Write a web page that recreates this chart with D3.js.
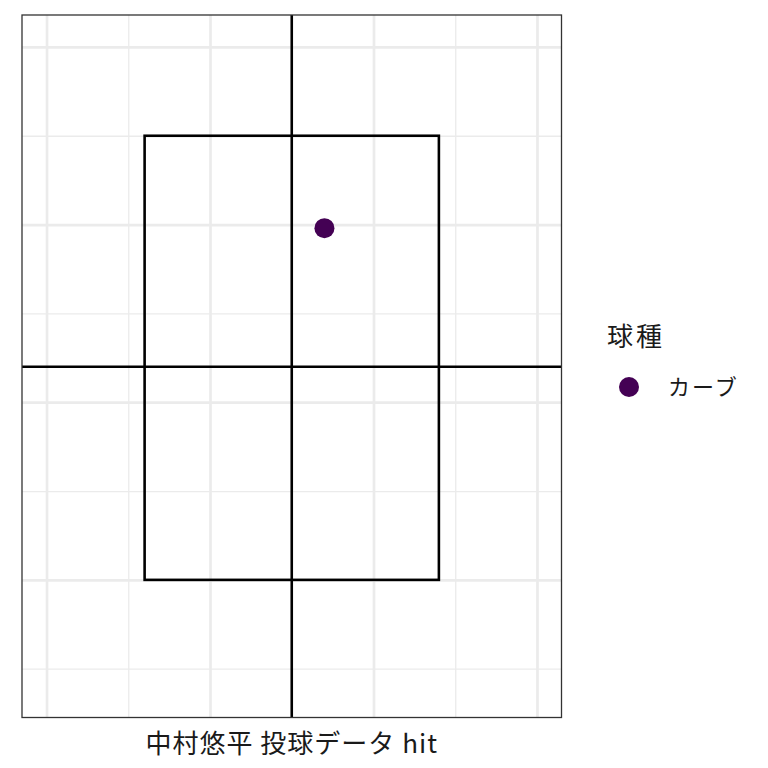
<!DOCTYPE html>
<html>
<head>
<meta charset="utf-8">
<script src="https://cdn.jsdelivr.net/npm/d3@7"></script>
<style>
  body { margin: 0; background: #fff; }
  text { font-family: "Noto Sans CJK JP", "Noto Sans", sans-serif; fill: #1a1a1a; }
  .grid line { stroke: #ebebeb; }
  .grid path { display: none; }
</style>
</head>
<body>
<div id="chart"></div>
<script>
// pitch data
const pitchX = [0.2];
const pitchZ = [2.98];
const pitchType = ['カーブ'];
const pitchTypes = ['カーブ'];
const typeColors = ['#440154'];

// strike zone and centre lines
const zoneX = [-0.9, 0.9];
const zoneZ = [1.0, 3.5];
const centreX = [0];
const centreZ = [2.2];

// axis limits and breaks
const xLimits = [-1.5, 1.5];
const zLimits = [0.405, 4.0];
const xMajor = [-1.5, -0.5, 0.5, 1.5];
const xMinor = [-1, 0, 1];
const zMajor = [1, 2, 3, 4];
const zMinor = [0.5, 1.5, 2.5, 3.5];

const titleText = '中村悠平 投球データ hit';
const legendTitle = '球種';

const width = 768, height = 768;
const panel = { left: 22, right: 561.5, top: 15, bottom: 717.5 };
const pw = panel.right - panel.left;
const ph = panel.bottom - panel.top;

const expand = (lim) => {
    const d = (lim[1] - lim[0]) * 0.05;
    return [lim[0] - d, lim[1] + d];
};

const svg = d3.select('#chart')
    .append('svg')
    .attr('width', width)
    .attr('height', height);

const chart = svg.append('g')
    .attr('transform', `translate(${panel.left}, ${panel.top})`);

const xScale = d3.scaleLinear().domain(expand(xLimits)).range([0, pw]);
const yScale = d3.scaleLinear().domain(expand(zLimits)).range([ph, 0]);

// grid lines, minor first then major
chart.append('g')
    .attr('class', 'grid')
    .attr('transform', `translate(0, ${ph})`)
    .call(d3.axisBottom(xScale).tickValues(xMinor).tickSize(ph).tickFormat(''))
    .selectAll('line').attr('y2', -ph).attr('stroke-width', 1.3);

chart.append('g')
    .attr('class', 'grid')
    .call(d3.axisLeft(yScale).tickValues(zMinor).tickSize(-pw).tickFormat(''))
    .selectAll('line').attr('stroke-width', 1.3);

chart.append('g')
    .attr('class', 'grid')
    .attr('transform', `translate(0, ${ph})`)
    .call(d3.axisBottom(xScale).tickValues(xMajor).tickSize(ph).tickFormat(''))
    .selectAll('line').attr('y2', -ph).attr('stroke-width', 2.7);

chart.append('g')
    .attr('class', 'grid')
    .call(d3.axisLeft(yScale).tickValues(zMajor).tickSize(-pw).tickFormat(''))
    .selectAll('line').attr('stroke-width', 2.7);

// strike zone
chart.append('rect')
    .attr('x', xScale(zoneX[0]))
    .attr('y', yScale(zoneZ[1]))
    .attr('width', xScale(zoneX[1]) - xScale(zoneX[0]))
    .attr('height', yScale(zoneZ[0]) - yScale(zoneZ[1]))
    .attr('fill', 'none')
    .attr('stroke', '#000')
    .attr('stroke-width', 2.6);

// centre cross
chart.selectAll('.vline')
    .data(centreX).enter()
    .append('line')
    .attr('x1', d => xScale(d)).attr('x2', d => xScale(d))
    .attr('y1', 0).attr('y2', ph)
    .attr('stroke', '#000').attr('stroke-width', 2.6);

chart.selectAll('.hline')
    .data(centreZ).enter()
    .append('line')
    .attr('y1', d => yScale(d)).attr('y2', d => yScale(d))
    .attr('x1', 0).attr('x2', pw)
    .attr('stroke', '#000').attr('stroke-width', 2.6);

const color = d3.scaleOrdinal().domain(pitchTypes).range(typeColors);

// pitches
chart.selectAll('.pitch')
    .data(pitchX).enter()
    .append('circle')
    .attr('cx', (d, i) => xScale(d))
    .attr('cy', (d, i) => yScale(pitchZ[i]))
    .attr('r', 10)
    .attr('fill', (d, i) => color(pitchType[i]));

// panel border
chart.append('rect')
    .attr('width', pw).attr('height', ph)
    .attr('fill', 'none')
    .attr('stroke', '#333333')
    .attr('stroke-width', 1.3);

// x-axis title
svg.append('text')
    .attr('x', panel.left + pw / 2)
    .attr('y', 753)
    .attr('text-anchor', 'middle')
    .style('font-size', '26px')
    .style('letter-spacing', '1px')
    .text(titleText);

// legend
const legend = svg.append('g').attr('transform', 'translate(607, 0)');
legend.append('text')
    .attr('x', 0).attr('y', 346)
    .style('font-size', '26px')
    .style('letter-spacing', '3px')
    .text(legendTitle);

const keys = legend.selectAll('.key')
    .data(pitchTypes).enter()
    .append('g')
    .attr('transform', (d, i) => `translate(0, ${387 + i * 30})`);

keys.append('circle')
    .attr('cx', 22).attr('cy', 0).attr('r', 10)
    .attr('fill', d => color(d));

keys.append('text')
    .attr('x', 61).attr('y', 8)
    .style('font-size', '22px')
    .style('letter-spacing', '2px')
    .text(d => d);
</script>
</body>
</html>
